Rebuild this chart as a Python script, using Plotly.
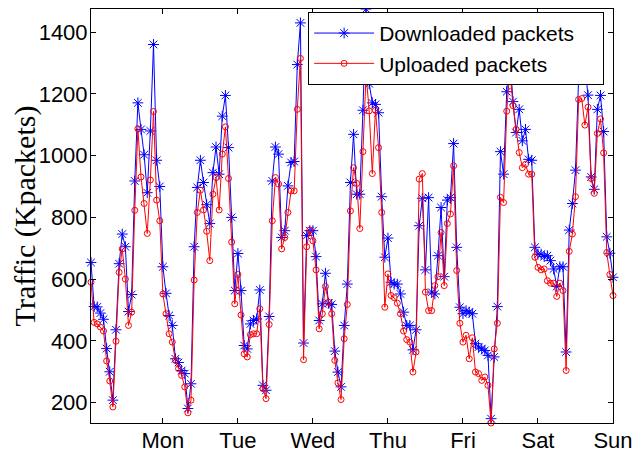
import plotly.graph_objects as go

# Hourly traffic over one week (Kpackets)
days = ["Mon", "Tue", "Wed", "Thu", "Fri", "Sat", "Sun"]
day_ticks = [24, 48, 72, 96, 120, 144, 168]
y_ticks = [200, 400, 600, 800, 1000, 1200, 1400]

down_sun = [654, 511, 510, 490, 470, 375, 300, 208, 436, 650, 746, 705, 495, 550, 918, 1171, 1085, 1003, 880, 1080, 1360, 985, 900]
down_mon = [640, 554, 482, 450, 342, 330, 304, 294, 181, 261, 705, 897, 985, 913, 841, 780, 945, 1028, 940, 1128, 1195, 1026, 800, 563, 683, 563, 385]
down_tue = [374, 455, 466, 471, 565, 256, 240, 479, 918, 1028, 1005, 735, 757, 902, 978, 981, 1295, 1430, 393, 741, 757, 757, 673]
down_wed = [466, 520, 619, 522, 518, 367, 299, 251, 450, 584, 913, 1069, 875, 875, 1147, 1475, 1233, 1171, 1166, 1139, 867, 671, 733, 590, 584]
down_thu = [584, 552, 493, 450, 450, 371, 436, 773, 862, 630, 864, 558, 552, 676, 832, 608, 856, 864, 1039, 703, 509, 488, 498, 493, 488]
down_fri = [391, 380, 374, 369, 353, 148, 348, 511, 1013, 940, 1207, 1330, 1175, 1075, 1150, 1048, 1085, 988, 985, 703, 681]
down_sat = [681, 673, 676, 660, 633, 576, 640, 640, 364, 759, 845, 953, 1250, 1300, 1290, 1196, 931, 891, 1150, 1195, 1078, 737, 684, 606]

up_sun = [590, 460, 455, 445, 432, 335, 270, 186, 399, 622, 698, 600, 450, 493, 823, 1087, 931, 845, 748, 921, 1143, 856, 789]
up_mon = [552, 488, 423, 396, 337, 310, 288, 251, 167, 208, 597, 816, 888, 824, 755, 660, 875, 929, 824, 1005, 1093, 926, 720, 520, 615, 484, 358]
up_tue = [348, 420, 423, 423, 504, 245, 213, 453, 789, 929, 908, 698, 735, 816, 886, 886, 1150, 1315, 339, 705, 759, 724, 630]
up_wed = [439, 488, 576, 525, 488, 337, 264, 210, 407, 518, 821, 961, 910, 764, 1013, 1263, 1145, 942, 1147, 1026, 816, 509, 617, 547, 540]
up_thu = [522, 488, 432, 404, 396, 299, 364, 924, 942, 558, 498, 498, 579, 608, 751, 579, 780, 811, 967, 628, 457, 396, 418, 342, 410]
up_fri = [299, 294, 272, 283, 256, 134, 374, 457, 865, 848, 1144, 1280, 1162, 1085, 1010, 961, 972, 940, 940, 671, 638]
up_sat = [630, 633, 595, 587, 587, 544, 587, 563, 304, 690, 746, 867, 1182, 1185, 1099, 1157, 926, 878, 1072, 1119, 1009, 686, 615, 547]

downloaded = down_sun + down_mon + down_tue + down_wed + down_thu + down_fri + down_sat
uploaded = up_sun + up_mon + up_tue + up_wed + up_thu + up_fri + up_sat
hours = list(range(1, len(downloaded) + 1))

fig = go.Figure()
fig.add_trace(go.Scatter(
    x=hours, y=downloaded, mode="lines+markers", name="Downloaded packets\u00a0\u00a0\u00a0\u00a0",
    line=dict(color="#0000FF", width=1),
    marker=dict(symbol="asterisk-open", size=9, color="#0000FF", line=dict(color="#0000FF", width=1)),
    cliponaxis=False,
))
fig.add_trace(go.Scatter(
    x=hours, y=uploaded, mode="lines+markers", name="Uploaded packets",
    line=dict(color="#FF0000", width=1),
    marker=dict(symbol="circle-open", size=6, color="#FF0000", line=dict(color="#FF0000", width=1)),
    cliponaxis=False,
))

axis_common = dict(
    showgrid=False, zeroline=False, showline=True, linecolor="black", linewidth=1,
    mirror="ticks", ticks="inside", ticklen=5, tickcolor="black", automargin=False,
    ticklabelstandoff=-2,
    tickfont=dict(family="Liberation Sans, Arial, sans-serif", size=22, color="black"),
)

# page body has an 8px margin, so the figure is sized to fit the 643x453 window
fig.update_layout(
    width=635, height=445,
    margin=dict(l=83, r=30, t=1, b=30, pad=0, autoexpand=False),
    paper_bgcolor="white", plot_bgcolor="white",
    xaxis=dict(range=[1, 168], tickvals=day_ticks, ticktext=days, **axis_common),
    yaxis=dict(range=[134, 1475], tickvals=y_ticks, **axis_common,
               title=dict(text="Traffic (Kpackets)", standoff=6,
                          font=dict(family="Liberation Serif, Times New Roman, serif", size=30, color="black"))),
    legend=dict(
        x=0.983, xanchor="right", y=0.993, yanchor="top",
        bgcolor="white", bordercolor="black", borderwidth=1,
        font=dict(family="Liberation Sans, Arial, sans-serif", size=21, color="black"),
        itemwidth=60, tracegroupgap=0,
    ),
    showlegend=True,
)

fig.write_html("out.html")
